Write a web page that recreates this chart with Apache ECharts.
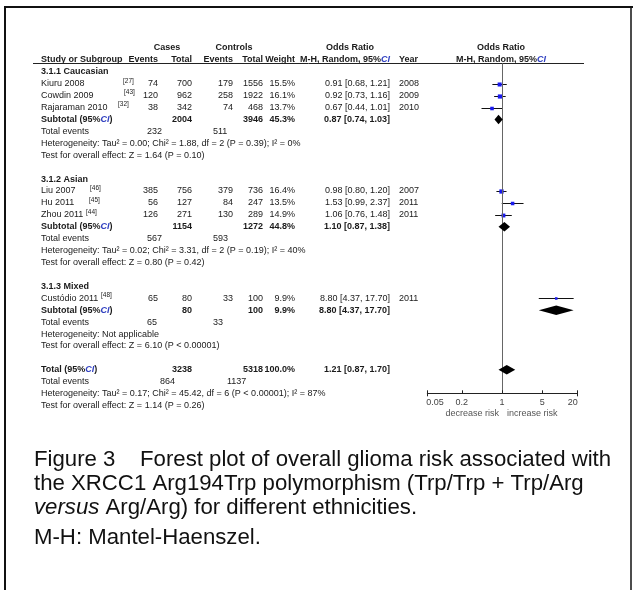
<!DOCTYPE html>
<html><head><meta charset="utf-8">
<script src="https://cdn.jsdelivr.net/npm/echarts@6/dist/echarts.min.js"></script>
<style>html,body{margin:0;padding:0;background:#fff}#c{width:633px;height:590px}</style>
</head><body><div id="c"></div>
<script>
// ---------- data ----------
const groupNames = ['3.1.1 Caucasian', '3.1.2 Asian', '3.1.3 Mixed'];
const groupSizes = [3, 3, 1];
const studies = ['Kiuru 2008', 'Cowdin 2009', 'Rajaraman 2010', 'Liu 2007', 'Hu 2011', 'Zhou 2011', 'Custódio 2011'];
const refs = ['[27]', '[43]', '[32]', '[46]', '[45]', '[44]', '[48]'];
const caseEvents = [74, 120, 38, 385, 56, 126, 65];
const caseTotals = [700, 962, 342, 756, 127, 271, 80];
const ctrlEvents = [179, 258, 74, 379, 84, 130, 33];
const ctrlTotals = [1556, 1922, 468, 736, 247, 289, 100];
const weights = [15.5, 16.1, 13.7, 16.4, 13.5, 14.9, 9.9];
const oddsRatios = [0.91, 0.92, 0.67, 0.98, 1.53, 1.06, 8.80];
const ciLow = [0.68, 0.73, 0.44, 0.80, 0.99, 0.76, 4.37];
const ciHigh = [1.21, 1.16, 1.01, 1.20, 2.37, 1.48, 17.70];
const years = [2008, 2009, 2010, 2007, 2011, 2011, 2011];

const subCaseTotals = [2004, 1154, 80];
const subCtrlTotals = [3946, 1272, 100];
const subWeights = [45.3, 44.8, 9.9];
const subOR = [0.87, 1.10, 8.80];
const subLow = [0.74, 0.87, 4.37];
const subHigh = [1.03, 1.38, 17.70];
const subCaseEvents = [232, 567, 65];
const subCtrlEvents = [511, 593, 33];
const subHet = [
  'Heterogeneity: Tau² = 0.00; Chi² = 1.88, df = 2 (P = 0.39); I² = 0%',
  'Heterogeneity: Tau² = 0.02; Chi² = 3.31, df = 2 (P = 0.19); I² = 40%',
  'Heterogeneity: Not applicable'
];
const subTest = [
  'Test for overall effect: Z = 1.64 (P = 0.10)',
  'Test for overall effect: Z = 0.80 (P = 0.42)',
  'Test for overall effect: Z = 6.10 (P < 0.00001)'
];
const totalCases = 3238, totalCtrls = 5318, totalWeight = 100.0;
const totalOR = 1.21, totalLow = 0.87, totalHigh = 1.70;
const totalCaseEvents = 864, totalCtrlEvents = 1137;
const totalHet = 'Heterogeneity: Tau² = 0.17; Chi² = 45.42, df = 6 (P < 0.00001); I² = 87%';
const totalTest = 'Test for overall effect: Z = 1.14 (P = 0.26)';

const tickValues = [0.05, 0.2, 1, 5, 20];
const tickLabels = ['0.05', '0.2', '1', '5', '20'];
const effectLabels = ['decrease risk', 'increase risk'];

const captionLines = [
  'Figure 3    Forest plot of overall glioma risk associated with',
  'the XRCC1 Arg194Trp polymorphism (Trp/Trp + Trp/Arg',
  '{i|versus} Arg/Arg) for different ethnicities.',
  'M-H: Mantel-Haenszel.'
];

// ---------- layout (style only) ----------
const FONT = '"Liberation Sans", Arial, sans-serif';
const TXT = '#1a1a1a';
const CI_BLUE = '#3040c0';
const refX = [123, 124, 118, 90, 89, 86, 101];
const COL = {name: 41, cEv: 158, cTot: 192, kEv: 233, kTot: 263, w: 295, or: 390, year: 399,
             evC: 147, evK: 213, totEvC: 160, totEvK: 227};
const Y_MIN = -0.713, Y_MAX = 26.97;
const CAP_Y = [460, 484, 508, 538];
const CAP_SIZE = 22.2;

const f2 = v => v.toFixed(2);
const orText = (o, l, h) => f2(o) + ' [' + f2(l) + ', ' + f2(h) + ']';

// ---------- build rows ----------
const tableRows = [];
const studyPts = [];
const diamondPts = [];
tableRows.push({r: -2, cells: [
  ['Cases', 167, 'center', 'b'], ['Controls', 234, 'center', 'b'],
  ['Odds Ratio', 350, 'center', 'b'], ['Odds Ratio', 501, 'center', 'b']]});
tableRows.push({r: -1, line: true, cells: [
  ['Study or Subgroup', COL.name, 'left', 'b'], ['Events', COL.cEv, 'right', 'b'],
  ['Total', COL.cTot, 'right', 'b'], ['Events', COL.kEv, 'right', 'b'],
  ['Total', COL.kTot, 'right', 'b'], ['Weight', COL.w, 'right', 'b'],
  ['{b|M-H, Random, 95%}{ci|CI}', COL.or, 'right', 'rich'], ['Year', COL.year, 'left', 'b'],
  ['{b|M-H, Random, 95%}{ci|CI}', 501, 'center', 'rich']]});
let r = 0, si = 0;
for (let g = 0; g < groupNames.length; g++) {
  tableRows.push({r: r++, cells: [[groupNames[g], COL.name, 'left', 'b']]});
  for (let k = 0; k < groupSizes[g]; k++, si++) {
    tableRows.push({r: r, cells: [
      [studies[si], COL.name, 'left', 'n'], [refs[si], refX[si], 'left', 'sup'],
      [String(caseEvents[si]), COL.cEv, 'right', 'n'], [String(caseTotals[si]), COL.cTot, 'right', 'n'],
      [String(ctrlEvents[si]), COL.kEv, 'right', 'n'], [String(ctrlTotals[si]), COL.kTot, 'right', 'n'],
      [weights[si].toFixed(1) + '%', COL.w, 'right', 'n'],
      [orText(oddsRatios[si], ciLow[si], ciHigh[si]), COL.or, 'right', 'n'],
      [String(years[si]), COL.year, 'left', 'n']]});
    studyPts.push([oddsRatios[si], ciLow[si], ciHigh[si], r, weights[si]]);
    r++;
  }
  tableRows.push({r: r, cells: [
    ['{b|Subtotal (95%}{ci|CI}{b|)}', COL.name, 'left', 'rich'],
    [String(subCaseTotals[g]), COL.cTot, 'right', 'b'], [String(subCtrlTotals[g]), COL.kTot, 'right', 'b'],
    [subWeights[g].toFixed(1) + '%', COL.w, 'right', 'b'],
    [orText(subOR[g], subLow[g], subHigh[g]), COL.or, 'right', 'b']]});
  diamondPts.push([subOR[g], subLow[g], subHigh[g], r]);
  r++;
  tableRows.push({r: r++, cells: [['Total events', COL.name, 'left', 'n'],
    [String(subCaseEvents[g]), COL.evC, 'left', 'n'], [String(subCtrlEvents[g]), COL.evK, 'left', 'n']]});
  tableRows.push({r: r++, cells: [[subHet[g], COL.name, 'left', 'n']]});
  tableRows.push({r: r++, cells: [[subTest[g], COL.name, 'left', 'n']]});
  r++;
}
tableRows.push({r: r, cells: [
  ['{b|Total (95%}{ci|CI}{b|)}', COL.name, 'left', 'rich'],
  [String(totalCases), COL.cTot, 'right', 'b'], [String(totalCtrls), COL.kTot, 'right', 'b'],
  [totalWeight.toFixed(1) + '%', COL.w, 'right', 'b'],
  [orText(totalOR, totalLow, totalHigh), COL.or, 'right', 'b']]});
diamondPts.push([totalOR, totalLow, totalHigh, r]);
r++;
tableRows.push({r: r++, cells: [['Total events', COL.name, 'left', 'n'],
  [String(totalCaseEvents), COL.totEvC, 'left', 'n'], [String(totalCtrlEvents), COL.totEvK, 'left', 'n']]});
tableRows.push({r: r++, cells: [[totalHet, COL.name, 'left', 'n']]});
tableRows.push({r: r++, cells: [[totalTest, COL.name, 'left', 'n']]});

// ---------- render helpers ----------
function textEl(c, y) {
  const [text, x, align, kind] = c;
  const st = {text: text, x: x, y: y, align: align, verticalAlign: 'middle', fill: TXT};
  if (kind === 'b') st.font = 'bold 9px ' + FONT;
  else if (kind === 'sup') { st.font = '6.5px ' + FONT; st.y = y - 3; }
  else if (kind === 'rich') {
    st.font = 'bold 9px ' + FONT;
    st.rich = {
      b: {font: 'bold 9px ' + FONT, fill: TXT},
      ci: {font: 'italic bold 9px ' + FONT, fill: CI_BLUE}
    };
  } else st.font = '9px ' + FONT;
  return {type: 'text', style: st, silent: true};
}

const chart = echarts.init(document.getElementById('c'));
chart.setOption({
  backgroundColor: '#fff',
  animation: false,
  grid: {left: 427.3, right: 56.3, top: 63.3, bottom: 196.7},
  xAxis: {type: 'log', logBase: 10, min: 0.05, max: 20, position: 'bottom',
    axisLine: {show: true, onZero: false, lineStyle: {color: '#222', width: 1}},
    axisTick: {show: false}, axisLabel: {show: false}, splitLine: {show: false}},
  yAxis: {type: 'value', inverse: true, min: Y_MIN, max: Y_MAX, show: false},
  series: [
    {
      type: 'custom', name: 'table', silent: true,
      data: tableRows.map(t => [1, t.r]),
      encode: {x: 0, y: 1},
      renderItem: function (params, api) {
        const row = tableRows[params.dataIndex];
        const y = api.coord([1, row.r])[1];
        const ch = row.cells.map(c => textEl(c, y));
        if (row.line) {
          const ly = Math.round(api.coord([1, Y_MIN])[1]) + 0.5;
          ch.push({type: 'line', shape: {x1: 33, y1: ly, x2: 584, y2: ly}, style: {stroke: '#222', lineWidth: 1}});
        }
        return {type: 'group', children: ch};
      },
      z: 3
    },
    {
      type: 'custom', name: 'studies', silent: true,
      data: studyPts,
      encode: {x: [0, 1, 2], y: 3},
      renderItem: function (params, api) {
        const p = api.coord([api.value(0), api.value(3)]);
        const l = api.coord([api.value(1), api.value(3)]);
        const h = api.coord([api.value(2), api.value(3)]);
        const s = api.value(4) * 0.26;
        const yy = Math.round(p[1]) + 0.5;
        return {type: 'group', children: [
          {type: 'line', shape: {x1: l[0], y1: yy, x2: h[0], y2: yy}, style: {stroke: '#111', lineWidth: 1}},
          {type: 'rect', shape: {x: p[0] - s / 2, y: yy - s / 2, width: s, height: s}, style: {fill: '#1a1aee'}}
        ]};
      },
      markLine: {
        silent: true, symbol: ['none', 'none'], label: {show: false},
        lineStyle: {color: '#666', type: 'solid', width: 1},
        data: [{xAxis: 1}]
      },
      z: 4
    },
    {
      type: 'custom', name: 'diamonds', silent: true,
      data: diamondPts,
      encode: {x: [0, 1, 2], y: 3},
      renderItem: function (params, api) {
        const p = api.coord([api.value(0), api.value(3)]);
        const l = api.coord([api.value(1), api.value(3)]);
        const h = api.coord([api.value(2), api.value(3)]);
        const hh = 4.8;
        return {type: 'polygon', shape: {points: [[l[0], p[1]], [p[0], p[1] - hh], [h[0], p[1]], [p[0], p[1] + hh]]},
          style: {fill: '#000'}};
      },
      z: 5
    },
    {
      type: 'custom', name: 'ticks', silent: true,
      data: tickValues.map(v => [v, Y_MAX]),
      encode: {x: 0, y: 1},
      renderItem: function (params, api) {
        const i = params.dataIndex;
        const p = api.coord([api.value(0), Y_MAX]);
        const x = Math.round(p[0]) + 0.5;
        const end = (i === 0 || i === tickValues.length - 1);
        const ch = [
          {type: 'line', shape: {x1: x, y1: p[1] - 3, x2: x, y2: p[1] + (end ? 3 : 0)}, style: {stroke: '#222', lineWidth: 1}},
          {type: 'text', style: {text: tickLabels[i], x: p[0] + (i === 0 ? -1 : (end ? 1 : 0)), y: p[1] + 9,
            align: i === 0 ? 'left' : (end ? 'right' : 'center'), verticalAlign: 'middle',
            font: '9px ' + FONT, fill: '#444'}}
        ];
        if (tickValues[i] === 1) {
          ch.push({type: 'text', style: {text: effectLabels[0], x: p[0] - 3, y: p[1] + 20, align: 'right', verticalAlign: 'middle', font: '9px ' + FONT, fill: '#555'}});
          ch.push({type: 'text', style: {text: effectLabels[1], x: p[0] + 5, y: p[1] + 20, align: 'left', verticalAlign: 'middle', font: '9px ' + FONT, fill: '#555'}});
        }
        return {type: 'group', children: ch};
      },
      z: 6
    }
  ],
  graphic: [
    {type: 'line', shape: {x1: 5, y1: 7, x2: 633, y2: 7}, style: {stroke: '#111', lineWidth: 2}, silent: true},
    {type: 'line', shape: {x1: 5, y1: 6, x2: 5, y2: 590}, style: {stroke: '#111', lineWidth: 2}, silent: true},
    {type: 'line', shape: {x1: 631, y1: 6, x2: 631, y2: 590}, style: {stroke: '#111', lineWidth: 1.5}, silent: true}
  ].concat(captionLines.map((t, i) => ({
    type: 'text', silent: true,
    style: {text: t, x: 34, y: CAP_Y[i], verticalAlign: 'middle', align: 'left',
      font: CAP_SIZE + 'px ' + FONT, fill: '#111',
      rich: {i: {font: 'italic ' + CAP_SIZE + 'px ' + FONT, fill: '#111'}}}
  })))
});
</script></body></html>
